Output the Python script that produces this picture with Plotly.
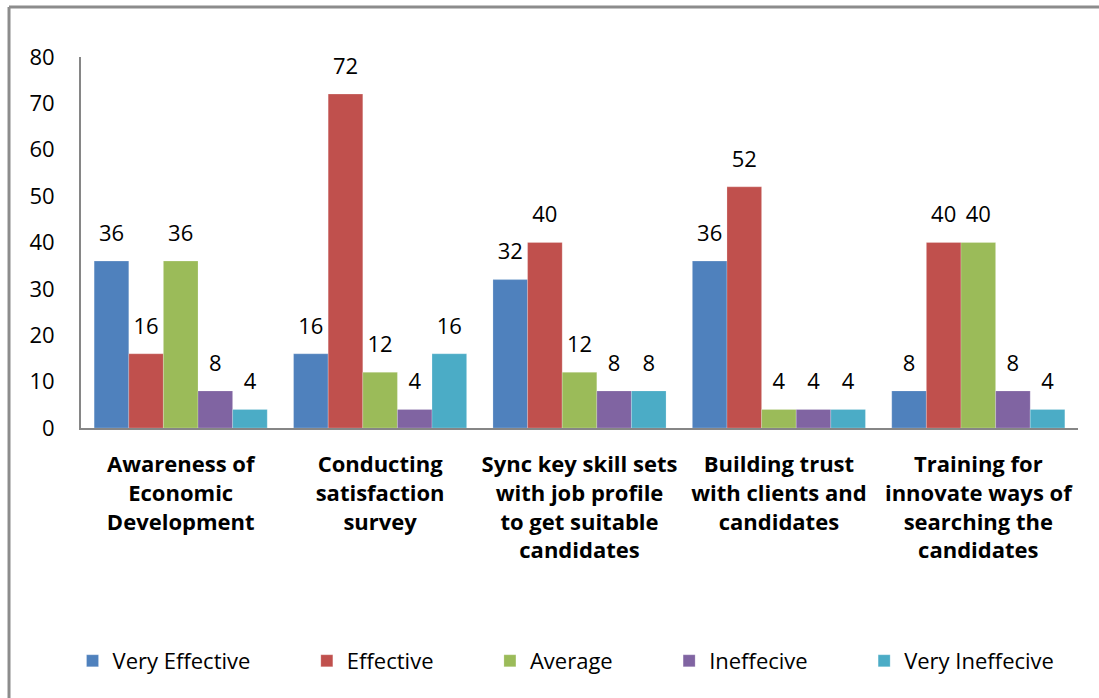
import plotly.graph_objects as go

categories = [
    "Awareness of<br>Economic<br>Development",
    "Conducting<br>satisfaction<br>survey",
    "Sync key skill sets<br>with job profile<br>to get suitable<br>candidates",
    "Building trust<br>with clients and<br>candidates",
    "Training for<br>innovate ways of<br>searching the<br>candidates",
]
series_names = ["Very Effective", "Effective", "Average", "Ineffecive", "Very Ineffecive"]
very_effective = [36, 16, 32, 36, 8]
effective = [16, 72, 40, 52, 40]
average = [36, 12, 12, 4, 40]
ineffective = [8, 4, 8, 4, 8]
very_ineffective = [4, 16, 8, 4, 4]
series_values = [very_effective, effective, average, ineffective, very_ineffective]
colors = ["#4F81BD", "#C0504D", "#9BBB59", "#8064A2", "#4BACC6"]
y_ticks = [0, 10, 20, 30, 40, 50, 60, 70, 80]

FONT = "Open Sans"
pad = "\u00a0" * 9

fig = go.Figure()
for i, (name, vals, col) in enumerate(zip(series_names, series_values, colors)):
    label = name if i == len(series_names) - 1 else name + pad
    fig.add_trace(go.Bar(
        x=categories, y=vals, name=label,
        marker=dict(color=col, line=dict(color="rgba(255,255,255,0.35)", width=0.6)),
        hoverinfo="skip",
    ))
for name, vals in zip(series_names, series_values):
    fig.add_trace(go.Scatter(
        x=categories, y=vals, mode="markers+text", text=[str(v) for v in vals],
        textposition="top center", textfont=dict(family=FONT, size=22, color="#000000"),
        marker=dict(size=22, opacity=0), showlegend=False, cliponaxis=False,
        hoverinfo="skip",
    ))

fig.update_layout(
    width=1099, height=698, autosize=False,
    margin=dict(l=81, r=21, t=57, b=270),
    paper_bgcolor="white", plot_bgcolor="white",
    barmode="group", bargap=0.132, bargroupgap=0,
    scattermode="group", scattergap=0.132,
    font=dict(family=FONT, size=22, color="#000000"),
    showlegend=True,
    legend=dict(orientation="h", xref="container", yref="container",
                x=0.066, xanchor="left", y=0.053, yanchor="middle",
                font=dict(family=FONT, size=22, color="#000000"),
                traceorder="normal", itemclick=False),
    xaxis=dict(showline=True, linecolor="#868686", linewidth=2, ticks="",
               tickfont=dict(family=FONT, size=22, color="#000000", weight="bold"),
               ticklabelstandoff=16, showgrid=False, zeroline=False, fixedrange=True,
               automargin=False),
    yaxis=dict(range=[0, 80], tickvals=y_ticks, showline=True, linecolor="#868686",
               linewidth=2, ticks="", showgrid=False, zeroline=False,
               tickfont=dict(family=FONT, size=22, color="#000000"),
               ticklabelstandoff=20, fixedrange=True, automargin=False),
    shapes=[
        dict(type="line", xref="paper", yref="paper", x0=-0.0722, x1=1.1, y0=1.1348, y1=1.1348,
             line=dict(color="#8C8C8C", width=3)),
        dict(type="line", xref="paper", yref="paper", x0=-0.0722, x1=-0.0722, y0=1.1348, y1=-0.8,
             line=dict(color="#8C8C8C", width=3)),
    ],
)

fig.write_html("out.html")
